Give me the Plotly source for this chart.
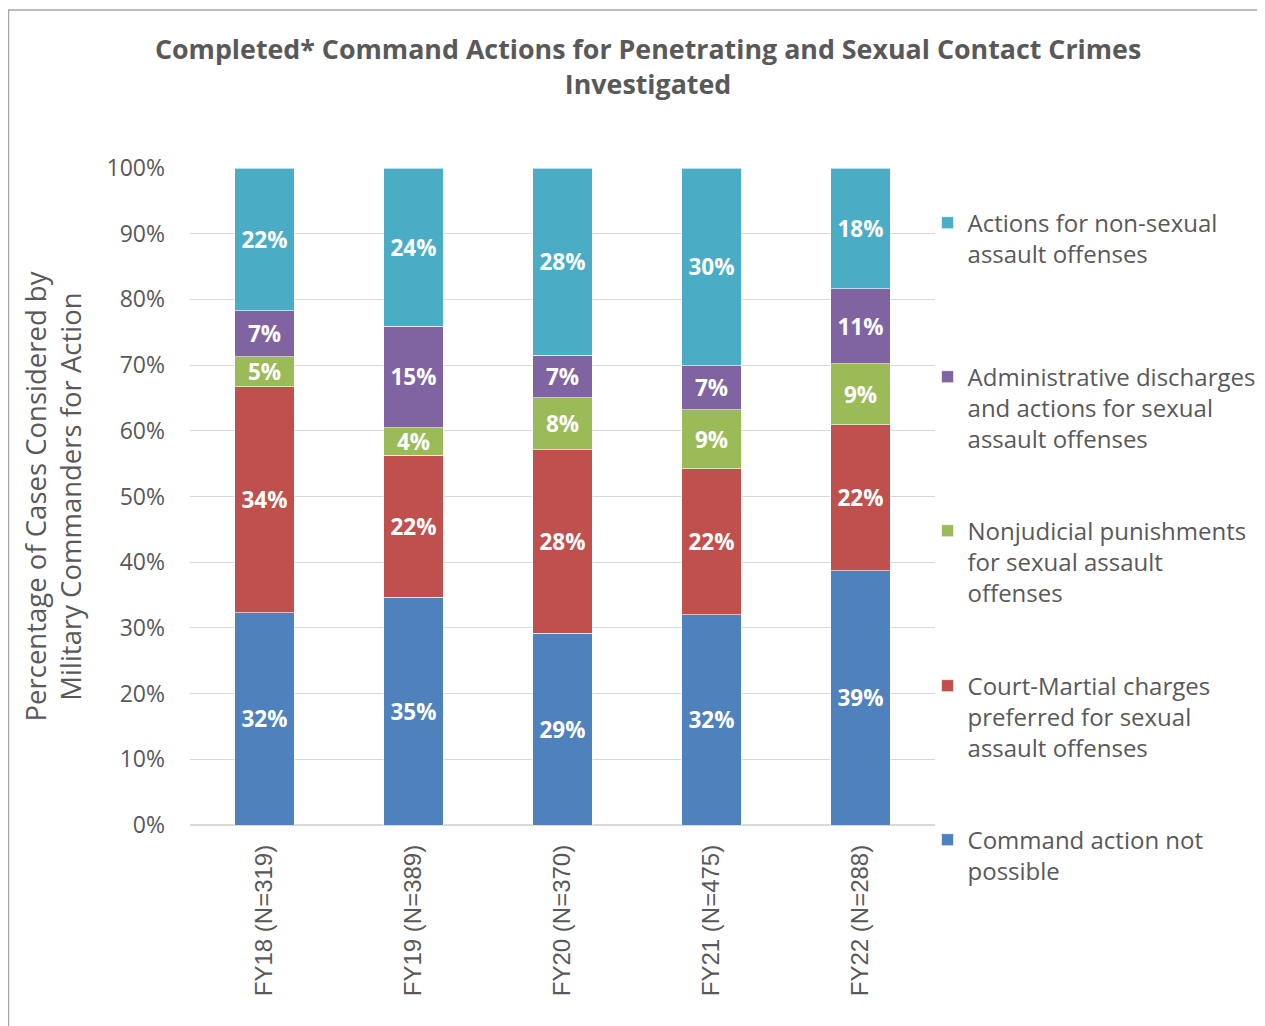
import plotly.graph_objects as go

categories = ["FY18 (N=319)", "FY19 (N=389)", "FY20 (N=370)", "FY21 (N=475)", "FY22 (N=288)"]

not_possible = [32.3, 34.7, 29.2, 32.0, 38.7]
court_martial = [34.4, 21.6, 27.9, 22.2, 22.2]
nonjudicial = [4.6, 4.2, 7.9, 9.0, 9.3]
admin = [7.0, 15.4, 6.5, 6.7, 11.4]
non_sexual = [21.7, 24.1, 28.5, 30.1, 18.4]

not_possible_lbl = ["32%", "35%", "29%", "32%", "39%"]
court_martial_lbl = ["34%", "22%", "28%", "22%", "22%"]
nonjudicial_lbl = ["5%", "4%", "8%", "9%", "9%"]
admin_lbl = ["7%", "15%", "7%", "7%", "11%"]
non_sexual_lbl = ["22%", "24%", "28%", "30%", "18%"]

series = [
    ("Command action not<br>possible", not_possible, not_possible_lbl, "#4F81BD"),
    ("Court-Martial charges<br>preferred for sexual<br>assault offenses", court_martial, court_martial_lbl, "#C0504D"),
    ("Nonjudicial punishments<br>for sexual assault<br>offenses", nonjudicial, nonjudicial_lbl, "#9BBB59"),
    ("Administrative discharges<br>and actions for sexual<br>assault offenses", admin, admin_lbl, "#8064A2"),
    ("Actions for non-sexual<br>assault offenses", non_sexual, non_sexual_lbl, "#4BACC6"),
]
# legend vertical anchor (paper) for each series, bottom to top
legend_y = [0.0113, 0.2457, 0.4816, 0.7160, 0.9504]

GRAY = "#595959"
FONT = "Open Sans"

fig = go.Figure()
legend_layouts = {}
for i, (name, vals, lbls, color) in enumerate(series):
    lname = "legend" if i == 0 else f"legend{i + 1}"
    fig.add_trace(go.Bar(
        x=categories, y=vals, name=name, text=lbls,
        textposition="inside", insidetextanchor="middle",
        textfont=dict(family=FONT, size=22.5, color="white", weight="bold"),
        marker=dict(color=color, line=dict(color="rgba(255,255,255,0.6)", width=1)),
        legend=lname, hoverinfo="skip",
    ))
    legend_layouts[lname] = dict(
        x=0.99, xanchor="left", y=legend_y[i], yanchor="top", valign="top",
        font=dict(family=FONT, size=24, color=GRAY), itemclick=False,
        bgcolor="rgba(0,0,0,0)",
    )

L, T = 182, 160
fig.update_layout(
    width=1265, height=1026,
    barmode="stack", bargap=0.6,
    plot_bgcolor="white", paper_bgcolor="white",
    margin=dict(l=L, r=1265 - L - 745, t=T, b=1026 - T - 657, autoexpand=False),
    font=dict(family=FONT, color=GRAY),
    uniformtext=dict(mode="show", minsize=18),
    title=dict(
        text="<b>Completed* Command Actions for Penetrating and Sexual Contact Crimes<br>Investigated</b>",
        x=0.506, xanchor="center", xref="container",
        y=0.950, yanchor="middle", yref="container",
        font=dict(family=FONT, size=26.8, color=GRAY),
    ),
    showlegend=True,
    **legend_layouts,
)

fig.update_yaxes(
    range=[0, 100], dtick=10, ticksuffix="%",
    showgrid=True, gridcolor="#D9D9D9", gridwidth=1,
    zeroline=True, zerolinecolor="#D9D9D9",
    tickfont=dict(family=FONT, size=23, color=GRAY),
    ticks="", ticklabelstandoff=24,
    title=dict(text="Percentage of Cases Considered by<br>Military Commanders for Action",
               font=dict(family=FONT, size=27.5, color=GRAY), standoff=16),
)
fig.update_xaxes(
    tickangle=-90, showline=False, showgrid=False, ticks="",
    tickfont=dict(family="Liberation Sans", size=24, color=GRAY),
    ticklabelstandoff=14,
)

fig.add_shape(type="rect", xref="paper", yref="paper",
              x0=(0.5 - L) / 745, x1=(1300 - L) / 745,
              y0=(T + 657 - 1100) / 657, y1=(T + 657 - 2) / 657,
              line=dict(color="#A6A6A6", width=1.5), fillcolor="rgba(0,0,0,0)", layer="below")

fig.write_html("out.html")
